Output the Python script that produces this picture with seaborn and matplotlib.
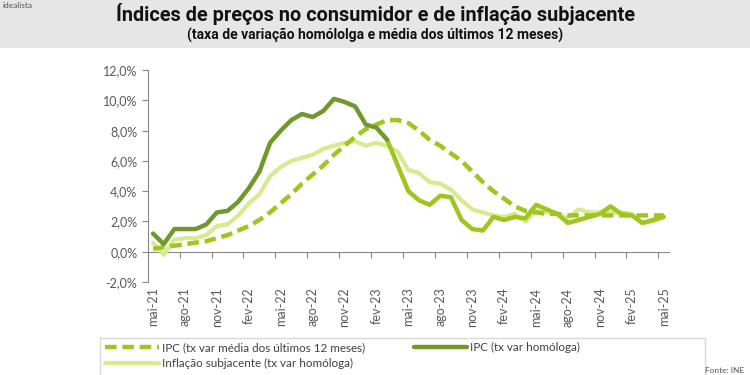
import numpy as np
import pandas as pd
import matplotlib
matplotlib.use("Agg")
import matplotlib.pyplot as plt
import seaborn as sns
from matplotlib import ticker
from matplotlib.patches import Rectangle

months = ["mai", "jun", "jul", "ago", "set", "out", "nov", "dez", "jan", "fev", "mar", "abr"]
periods = []
for i in range(49):
    m = months[i % 12]
    yr = 21 + (i + 4) // 12
    periods.append(f"{m}-{yr}")

# IPC taxa de variação homóloga (%)
ipc_homologa = [1.2, 0.5, 1.5, 1.5, 1.5, 1.8, 2.6, 2.7, 3.3, 4.2, 5.3, 7.2,
                8.0, 8.7, 9.1, 8.9, 9.3, 10.1, 9.9, 9.6, 8.4, 8.2, 7.4, 5.7,
                4.0, 3.4, 3.1, 3.7, 3.6, 2.1, 1.5, 1.4, 2.3, 2.1, 2.3, 2.2,
                3.1, 2.8, 2.5, 1.9, 2.1, 2.3, 2.5, 3.0, 2.5, 2.4, 1.9, 2.1, 2.3]
# IPC taxa de variação média dos últimos 12 meses (%)
ipc_media12 = [0.2, 0.3, 0.4, 0.5, 0.6, 0.7, 0.9, 1.1, 1.4, 1.7, 2.1, 2.6,
               3.2, 3.8, 4.5, 5.1, 5.7, 6.4, 7.0, 7.6, 8.1, 8.4, 8.7, 8.7,
               8.5, 8.0, 7.4, 7.0, 6.5, 6.0, 5.3, 4.6, 4.0, 3.5, 3.0, 2.7,
               2.6, 2.5, 2.5, 2.4, 2.4, 2.4, 2.4, 2.4, 2.4, 2.4, 2.4, 2.4, 2.4]
# Inflação subjacente, taxa de variação homóloga (%)
subjacente = [0.6, -0.2, 0.8, 0.9, 0.9, 1.1, 1.7, 1.8, 2.4, 3.2, 3.8, 5.0,
              5.6, 6.0, 6.2, 6.4, 6.8, 7.0, 7.2, 7.3, 7.0, 7.2, 7.0, 6.6,
              5.4, 5.2, 4.6, 4.5, 4.1, 3.4, 2.8, 2.6, 2.4, 2.3, 2.5, 2.0,
              2.7, 2.6, 2.5, 2.2, 2.8, 2.6, 2.6, 2.6, 2.6, 2.5, 1.9, 2.0, 2.3]

df = pd.DataFrame({"idx": range(len(periods)), "periodo": periods,
                   "homologa": ipc_homologa, "media": ipc_media12, "subj": subjacente})

c_media = "#9fc51f"
c_hom = "#6f9a2b"
c_subj = "#d6eb8e"
txt_col = "#595959"

sns.set_style("white")
plt.rcParams["font.family"] = ["Lato", "DejaVu Sans"]

fig = plt.figure(figsize=(7.5, 3.75), dpi=100)
fig.patch.set_facecolor("white")
fig.add_artist(Rectangle((0, 1 - 48 / 375), 1, 48 / 375, transform=fig.transFigure,
                         facecolor="#e6e6e6", edgecolor="none", zorder=-2))
fig.text(0.50, 0.962, "Índices de preços no consumidor e de inflação subjacente",
         ha="center", va="center", fontsize=14.3, fontweight="bold", color="#111111",
         family=["Roboto", "DejaVu Sans"])
fig.text(0.50, 0.906, "(taxa de variação homólolga e média dos últimos 12 meses)",
         ha="center", va="center", fontsize=10, fontweight="bold", color="#111111",
         family=["Roboto", "DejaVu Sans"])
fig.text(0.004, 0.985, "idealista", ha="left", va="center", fontsize=6, color="#555555")
fig.text(0.94, 0.012, "Fonte: INE", ha="left", va="center", fontsize=6, color="#555555")

# legend frame (wider than its content, as in the source chart)
fig.add_artist(Rectangle((100 / 750, -0.02), 605 / 750, 0.02 + 37 / 375,
                         transform=fig.transFigure, facecolor="white",
                         edgecolor="#d9d9d9", linewidth=1, zorder=-1))

ax = fig.add_axes([0.197, 0.248, 0.695, 0.565])
ax.patch.set_alpha(0)

split = 22
sns.lineplot(ax=ax, data=df, x="idx", y="subj", color=c_subj, linewidth=3,
             label="Inflação subjacente (tx var homóloga)", zorder=2)
sns.lineplot(ax=ax, data=df, x="idx", y="media", color=c_media, linewidth=3.2,
             linestyle=(0, (2.6, 1.3)), label="IPC (tx var média dos últimos 12 meses)", zorder=3)
sns.lineplot(ax=ax, data=df[df["idx"] >= split], x="idx", y="homologa", color=c_media,
             linewidth=3.2, zorder=4)
sns.lineplot(ax=ax, data=df[df["idx"] <= split], x="idx", y="homologa", color=c_hom,
             linewidth=3.2, label="IPC (tx var homóloga)", zorder=5)

ax.set_xlim(-0.5, len(periods) - 0.5)
ax.set_ylim(-2, 12)
ax.set_yticks(np.arange(-2, 12.1, 2))
ax.yaxis.set_major_formatter(ticker.FuncFormatter(lambda v, p: f"{v:.1f}%".replace(".", ",")))
ax.set_xticks(df["idx"][::3])
ax.set_xticklabels(df["periodo"][::3], rotation=90)
ax.tick_params(axis="x", length=0, labelsize=9, labelcolor=txt_col, pad=4)
ax.tick_params(axis="y", length=4, direction="out", left=True, labelsize=9,
               labelcolor=txt_col, color="#888888")
ax.set_xlabel(None)
ax.set_ylabel(None)
for s in ["top", "right", "bottom"]:
    ax.spines[s].set_visible(False)
ax.spines["left"].set_color("#888888")
ax.grid(False)

# category axis crossing at 0 with marks between categories
sec = ax.secondary_xaxis(2 / 14)
sec.set_xticks(np.arange(-0.5, len(periods), 3))
sec.tick_params(axis="x", length=4, direction="out", labelbottom=False, color="#888888")
sec.spines["bottom"].set_color("#888888")

handles, labels = ax.get_legend_handles_labels()
order = [labels.index("IPC (tx var média dos últimos 12 meses)"),
         labels.index("Inflação subjacente (tx var homóloga)"),
         labels.index("IPC (tx var homóloga)")]
leg = ax.legend([handles[i] for i in order], [labels[i] for i in order], ncol=2,
                loc="upper left", bbox_to_anchor=(0.137, 0.094), bbox_transform=fig.transFigure,
                frameon=False, fontsize=8.4, handlelength=4.6, handletextpad=0.25,
                columnspacing=4.2, labelspacing=0.42, borderpad=0.2, borderaxespad=0,
                labelcolor="#404040")

fig.savefig("out.png", dpi=100)
